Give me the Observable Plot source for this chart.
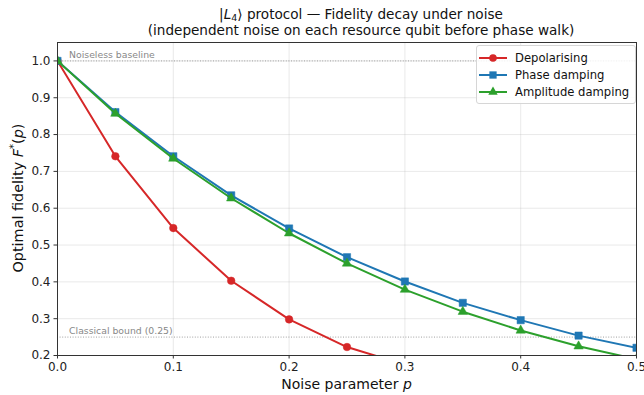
<!DOCTYPE html>
<html>
<head>
<meta charset="utf-8">
<script src="https://cdn.jsdelivr.net/npm/d3@7"></script>
<script src="https://cdn.jsdelivr.net/npm/@observablehq/plot@0.6"></script>
<style>
  body { margin: 0; background: white; font-family: "DejaVu Sans", sans-serif; }
  #wrap { position: relative; width: 644px; height: 395px; overflow: hidden; }
  #title { position: absolute; left: 0; top: 6px; width: 722px; text-align: center; font-size: 13.6px; line-height: 16px; color: #111; }
  #title sub { font-size: 9.5px; vertical-align: -2px; line-height: 0; }
  #chart { position: absolute; left: 0; top: 42px; }
  #legend { position: absolute; left: 476px; top: 45px; width: 158px; height: 57px; border: 1px solid #d6d6d6; border-radius: 3px; background: rgba(255,255,255,0.85); font-size: 11.6px; color: #111; }
  .item { position: absolute; left: 2px; height: 17px; display: flex; align-items: center; }
  .item svg { margin-right: 8px; }
  #xlabel { position: absolute; left: 57px; width: 579px; top: 376px; text-align: center; font-size: 14px; color: #111; }
  #ylabel { position: absolute; left: 17px; top: 198px; transform: translate(-50%, -50%) rotate(-90deg); white-space: nowrap; font-size: 14.4px; color: #111; }
</style>
</head>
<body>
<div id="wrap">
  <div id="title">|<i>L</i><sub>4</sub>⟩ protocol — Fidelity decay under noise<br>(independent noise on each resource qubit before phase walk)</div>
  <div id="chart"></div>
  <div id="xlabel">Noise parameter <i>p</i></div>
  <div id="ylabel">Optimal fidelity <i>F</i><sup style="font-size:10px">*</sup>(<i>p</i>)</div>
  <div id="legend"></div>
</div>
<script>
const noise = [0, 0.05, 0.10, 0.15, 0.20, 0.25, 0.30, 0.35, 0.40, 0.45, 0.50];
const depolarising = [1.0, 0.741, 0.546, 0.403, 0.298, 0.223, 0.175, 0.14, 0.115, 0.095, 0.08];
const phaseDamping = [1.0, 0.861, 0.741, 0.635, 0.545, 0.467, 0.401, 0.343, 0.296, 0.254, 0.221];
const amplitudeDamping = [1.0, 0.857, 0.735, 0.627, 0.532, 0.45, 0.379, 0.319, 0.268, 0.225, 0.19];
const seriesNames = ["Depolarising", "Phase damping", "Amplitude damping"];
const seriesColors = ["#d62728", "#1f77b4", "#2ca02c"];
const seriesSymbols = ["circle", "square", "triangle"];
const seriesR = [3.8, 4.1, 3.5];
const xTicks = [0, 0.1, 0.2, 0.3, 0.4, 0.5];
const yTicks = [0.2, 0.3, 0.4, 0.5, 0.6, 0.7, 0.8, 0.9, 1.0];
const refValues = [1.0, 0.25];
const refLabels = ["Noiseless baseline", "Classical bound (0.25)"];
const refLabelX = 0.01;

const seriesValues = [depolarising, phaseDamping, amplitudeDamping];
const rows = seriesValues.flatMap((vals, s) => vals.map((v, i) => ({p: noise[i], f: v, s})));
const refs = refValues.map((v, i) => ({y: v, label: refLabels[i], x: refLabelX}));

const marks = [
  Plot.gridX(xTicks, {stroke: "#b0b0b0", strokeOpacity: 0.35, strokeWidth: 0.8}),
  Plot.gridY(yTicks, {stroke: "#b0b0b0", strokeOpacity: 0.35, strokeWidth: 0.8}),
  Plot.ruleY(refs, {y: "y", stroke: "#888", strokeWidth: 0.8, strokeDasharray: "1,1.6"}),
  Plot.text(refs, {x: "x", y: "y", text: "label", textAnchor: "start", dy: -6, fill: "#888", fontSize: 9.3})
];
seriesNames.forEach((name, s) => {
  const d = rows.filter(r => r.s === s);
  marks.push(Plot.line(d, {x: "p", y: "f", stroke: seriesColors[s], strokeWidth: 2, clip: true}));
  marks.push(Plot.dot(d, {x: "p", y: "f", symbol: () => seriesSymbols[s], fill: seriesColors[s], stroke: seriesColors[s], strokeWidth: 0.5, r: seriesR[s], clip: true}));
});
marks.push(Plot.frame({stroke: "#333", strokeWidth: 1}));
marks.push(Plot.axisX(xTicks, {tickFormat: d3.format(".1f"), tickSize: 3.5, tickPadding: 3.5, fontSize: 12, label: null, stroke: "#333"}));
marks.push(Plot.axisY(yTicks, {tickFormat: d3.format(".1f"), tickSize: 3.5, tickPadding: 3.5, fontSize: 12, label: null, stroke: "#333"}));

const chart = Plot.plot({
  width: 644,
  height: 353,
  marginLeft: 57,
  marginRight: 8,
  marginTop: 0,
  marginBottom: 40,
  style: {fontFamily: "DejaVu Sans", fontSize: "12px", color: "#222", background: "transparent", overflow: "visible"},
  x: {domain: [0, 0.5]},
  y: {domain: [0.2, 1.05]},
  marks
});
document.getElementById("chart").appendChild(chart);

const legend = document.getElementById("legend");
seriesNames.forEach((name, s) => {
  const item = document.createElement("div");
  item.className = "item";
  item.style.top = (3 + s * 17) + "px";
  const sym = d3.symbol(s === 0 ? d3.symbolCircle : s === 1 ? d3.symbolSquare : d3.symbolTriangle, Math.PI * seriesR[s] * seriesR[s])();
  item.innerHTML = `<svg width="28" height="12"><line x1="0" x2="28" y1="6" y2="6" stroke="${seriesColors[s]}" stroke-width="2"/><path transform="translate(14,6)" d="${sym}" fill="${seriesColors[s]}"/></svg><span>${name}</span>`;
  legend.appendChild(item);
});
</script>
</body>
</html>
